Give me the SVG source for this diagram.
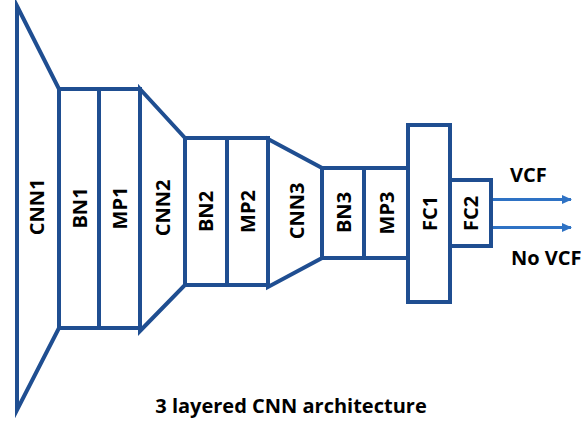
<svg xmlns="http://www.w3.org/2000/svg" width="585" height="423" viewBox="0 0 585 423">
  <style>
    .blk { fill: #ffffff; stroke: #1F4E91; stroke-width: 4; stroke-linejoin: miter; stroke-miterlimit: 10; }
    .lbl { font-family: "Open Sans", "Liberation Sans", sans-serif; font-weight: 700; font-size: 20px; fill: #000000; text-anchor: middle; }
    .out { font-family: "Open Sans", "Liberation Sans", sans-serif; font-weight: 700; font-size: 20px; fill: #000000; }
    .arrow { stroke: #2E72C4; stroke-width: 3; fill: none; }
  </style>
  <defs>
    <marker id="head" markerWidth="10" markerHeight="10" refX="9" refY="5" orient="auto" markerUnits="userSpaceOnUse">
      <path d="M0,0.5 L10,5 L0,9.5 Z" fill="#2E72C4"/>
    </marker>
  </defs>

  <rect width="585" height="423" fill="#ffffff"/>

  <g id="cnn1">
    <polygon class="blk" points="17,6 59,89 59,328 17,410"/>
    <text class="lbl" transform="translate(37,207) rotate(-90)" y="7">CNN1</text>
  </g>
  <g id="bn1">
    <rect class="blk" x="59" y="89" width="40" height="239"/>
    <text class="lbl" transform="translate(79.5,208) rotate(-90)" y="7">BN1</text>
  </g>
  <g id="mp1">
    <rect class="blk" x="99" y="89" width="41" height="239"/>
    <text class="lbl" transform="translate(120,208) rotate(-90)" y="7">MP1</text>
  </g>
  <g id="cnn2">
    <polygon class="blk" points="140,89 185,138 185,285 140,331"/>
    <text class="lbl" transform="translate(163,208) rotate(-90)" y="7">CNN2</text>
  </g>
  <g id="bn2">
    <rect class="blk" x="185" y="138" width="42" height="147"/>
    <text class="lbl" transform="translate(205.5,211.5) rotate(-90)" y="7">BN2</text>
  </g>
  <g id="mp2">
    <rect class="blk" x="227" y="138" width="41" height="147"/>
    <text class="lbl" transform="translate(247.5,211.5) rotate(-90)" y="7">MP2</text>
  </g>
  <g id="cnn3">
    <polygon class="blk" points="268,139 322,168 322,258 268,287"/>
    <text class="lbl" transform="translate(297,211) rotate(-90)" y="7">CNN3</text>
  </g>
  <g id="bn3">
    <rect class="blk" x="322" y="168" width="42" height="90"/>
    <text class="lbl" transform="translate(343.5,212.5) rotate(-90)" y="7">BN3</text>
  </g>
  <g id="mp3">
    <rect class="blk" x="364" y="168" width="44" height="90"/>
    <text class="lbl" transform="translate(386.5,213) rotate(-90)" y="7">MP3</text>
  </g>
  <g id="fc1">
    <rect class="blk" x="408" y="125" width="42" height="177"/>
    <text class="lbl" transform="translate(430,213.5) rotate(-90)" y="7">FC1</text>
  </g>
  <g id="fc2">
    <rect class="blk" x="450" y="180" width="41" height="66"/>
    <text class="lbl" transform="translate(471,213.5) rotate(-90)" y="7">FC2</text>
  </g>

  <g id="connectors">
    <line class="arrow" x1="493" y1="199.5" x2="571" y2="199.5" marker-end="url(#head)"/>
    <line class="arrow" x1="493" y1="227.5" x2="571" y2="227.5" marker-end="url(#head)"/>
  </g>

  <g id="outputs">
    <text class="out" x="510" y="182">VCF</text>
    <text class="out" x="511" y="265">No VCF</text>
  </g>

  <text id="title" class="out" x="291" y="413" font-size="21" text-anchor="middle">3 layered CNN architecture</text>
</svg>
